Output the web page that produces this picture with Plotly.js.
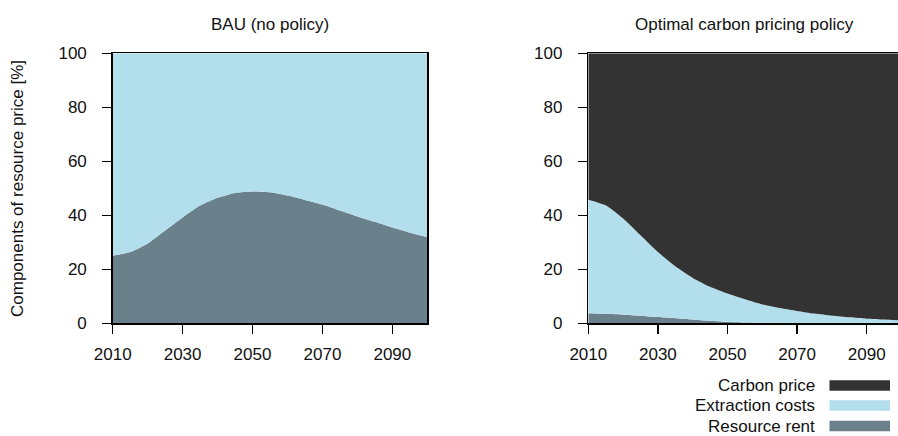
<!DOCTYPE html>
<html>
<head>
<meta charset="utf-8">
<script src="https://cdn.plot.ly/plotly-3.0.1.min.js"></script>
<style>html,body{margin:0;padding:0;background:#fff}#chart{width:898px;height:436px}</style>
</head>
<body>
<div id="chart"></div>
<script>
var years = [2010,2015,2020,2025,2030,2035,2040,2045,2050,2055,2060,2065,2070,2075,2080,2085,2090,2095,2100];
var tickYears = [2010,2030,2050,2070,2090];
var tickPct = [0,20,40,60,80,100];

// BAU (no policy): shares of resource price [%]
var bauRent       = [25.0,26.4,29.6,34.4,39.2,43.6,46.5,48.3,48.8,48.5,47.3,45.7,44.0,41.8,39.6,37.6,35.5,33.6,31.9];
var bauExtraction = [75.0,73.6,70.4,65.6,60.8,56.4,53.5,51.7,51.2,51.5,52.7,54.3,56.0,58.2,60.4,62.4,64.5,66.4,68.1];

// Optimal carbon pricing policy: shares of resource price [%]
var optRent       = [3.7,3.5,3.2,2.8,2.3,1.9,1.4,0.9,0.5,0.3,0.2,0.1,0.1,0.1,0.1,0.1,0.1,0.1,0.1];
var optExtraction = [42.1,40.2,35.6,29.8,24.1,19.2,15.4,12.6,10.5,8.6,6.8,5.6,4.5,3.5,2.7,2.1,1.6,1.3,1.0];
var optCarbon     = [54.2,56.3,61.2,67.4,73.6,78.9,83.2,86.5,89.0,91.1,93.0,94.3,95.4,96.4,97.2,97.8,98.3,98.6,98.9];

var seriesNames = ["Carbon price","Extraction costs","Resource rent"];
var colCarbon = "#333333", colExtr = "#b3deec", colRent = "#6a808a";
var FONT = "Liberation Sans, Arial, Helvetica, sans-serif";
var FS = 17;

function area(x, y, color, xa, ya, group, name) {
  return {x: x, y: y, type: "scatter", mode: "lines", stackgroup: group,
    fillcolor: color, line: {width: 0, shape: "spline", smoothing: 0.6, color: color},
    xaxis: xa, yaxis: ya, name: name, showlegend: false, hoverinfo: "x+y+name"};
}

var data = [
  area(years, bauRent, colRent, "x", "y", "bau", seriesNames[2]),
  area(years, bauExtraction, colExtr, "x", "y", "bau", seriesNames[1]),
  area(years, optRent, colRent, "x2", "y2", "opt", seriesNames[2]),
  area(years, optExtraction, colExtr, "x2", "y2", "opt", seriesNames[1]),
  area(years, optCarbon, colCarbon, "x2", "y2", "opt", seriesNames[0])
];

var W = 898, H = 436;
var yDom = [(H - 323.3) / H, (H - 53.3) / H];
function xAxis(dom, range, mirror) {
  return {domain: dom, range: range, tickmode: "array", tickvals: tickYears, ticktext: tickYears.map(String),
    ticks: "outside", ticklen: 9, tickwidth: 1.3, tickcolor: "#000", showline: true, linecolor: "#000",
    linewidth: 1.5, mirror: mirror, showgrid: false, zeroline: false, ticklabelstandoff: 6,
    tickfont: {family: FONT, size: FS, color: "#111"}, fixedrange: true};
}
function yAxis(anchor, mirror) {
  return {domain: yDom, range: [0, 100], anchor: anchor, tickmode: "array", tickvals: tickPct,
    ticktext: tickPct.map(String), ticks: "outside", ticklen: 9, tickwidth: 1.3, tickcolor: "#000",
    showline: true, linecolor: "#000", linewidth: 1.5, mirror: mirror, showgrid: false, zeroline: false,
    ticklabelstandoff: 12, tickfont: {family: FONT, size: FS, color: "#111"}, fixedrange: true};
}

var x2start = 588.3, pxPerYear2 = 3.48;
var layout = {
  width: W, height: H, margin: {l: 0, r: 0, t: 0, b: 0},
  paper_bgcolor: "#fff", plot_bgcolor: "#fff", showlegend: false,
  font: {family: FONT, size: FS, color: "#111"},
  xaxis: xAxis([112.7 / W, 427.3 / W], [2010, 2100], true),
  yaxis: yAxis("x", true),
  xaxis2: Object.assign(xAxis([x2start / W, 1], [2010, 2010 + (W - x2start) / pxPerYear2], true), {anchor: "y2"}),
  yaxis2: yAxis("x2", false),
  annotations: [
    {text: "BAU (no policy)", xref: "paper", yref: "paper", x: 270 / W, y: (H - 24) / H,
     xanchor: "center", yanchor: "middle", showarrow: false, font: {family: FONT, size: FS, color: "#111"}},
    {text: "Optimal carbon pricing policy", xref: "paper", yref: "paper", x: 744.5 / W, y: (H - 24) / H,
     xanchor: "center", yanchor: "middle", showarrow: false, font: {family: FONT, size: FS, color: "#111"}},
    {text: "Components of resource price [%]", xref: "paper", yref: "paper", x: 17 / W, y: (H - 189) / H,
     xanchor: "center", yanchor: "middle", textangle: -90, showarrow: false, font: {family: FONT, size: FS, color: "#111"}}
  ],
  shapes: []
};

var legColors = [colCarbon, colExtr, colRent];
var legY = [385.5, 405.5, 426];
for (var i = 0; i < seriesNames.length; i++) {
  layout.annotations.push({text: seriesNames[i], xref: "paper", yref: "paper", x: 817 / W, y: (H - legY[i]) / H,
    xanchor: "right", yanchor: "middle", showarrow: false, font: {family: FONT, size: FS, color: "#111"}});
  layout.shapes.push({type: "rect", xref: "paper", yref: "paper", x0: 829.5 / W, x1: 890 / W,
    y0: (H - legY[i] - 5.3) / H, y1: (H - legY[i] + 5.3) / H, fillcolor: legColors[i], line: {width: 0}});
}

Plotly.newPlot("chart", data, layout, {displayModeBar: false, staticPlot: true});
</script>
</body>
</html>
